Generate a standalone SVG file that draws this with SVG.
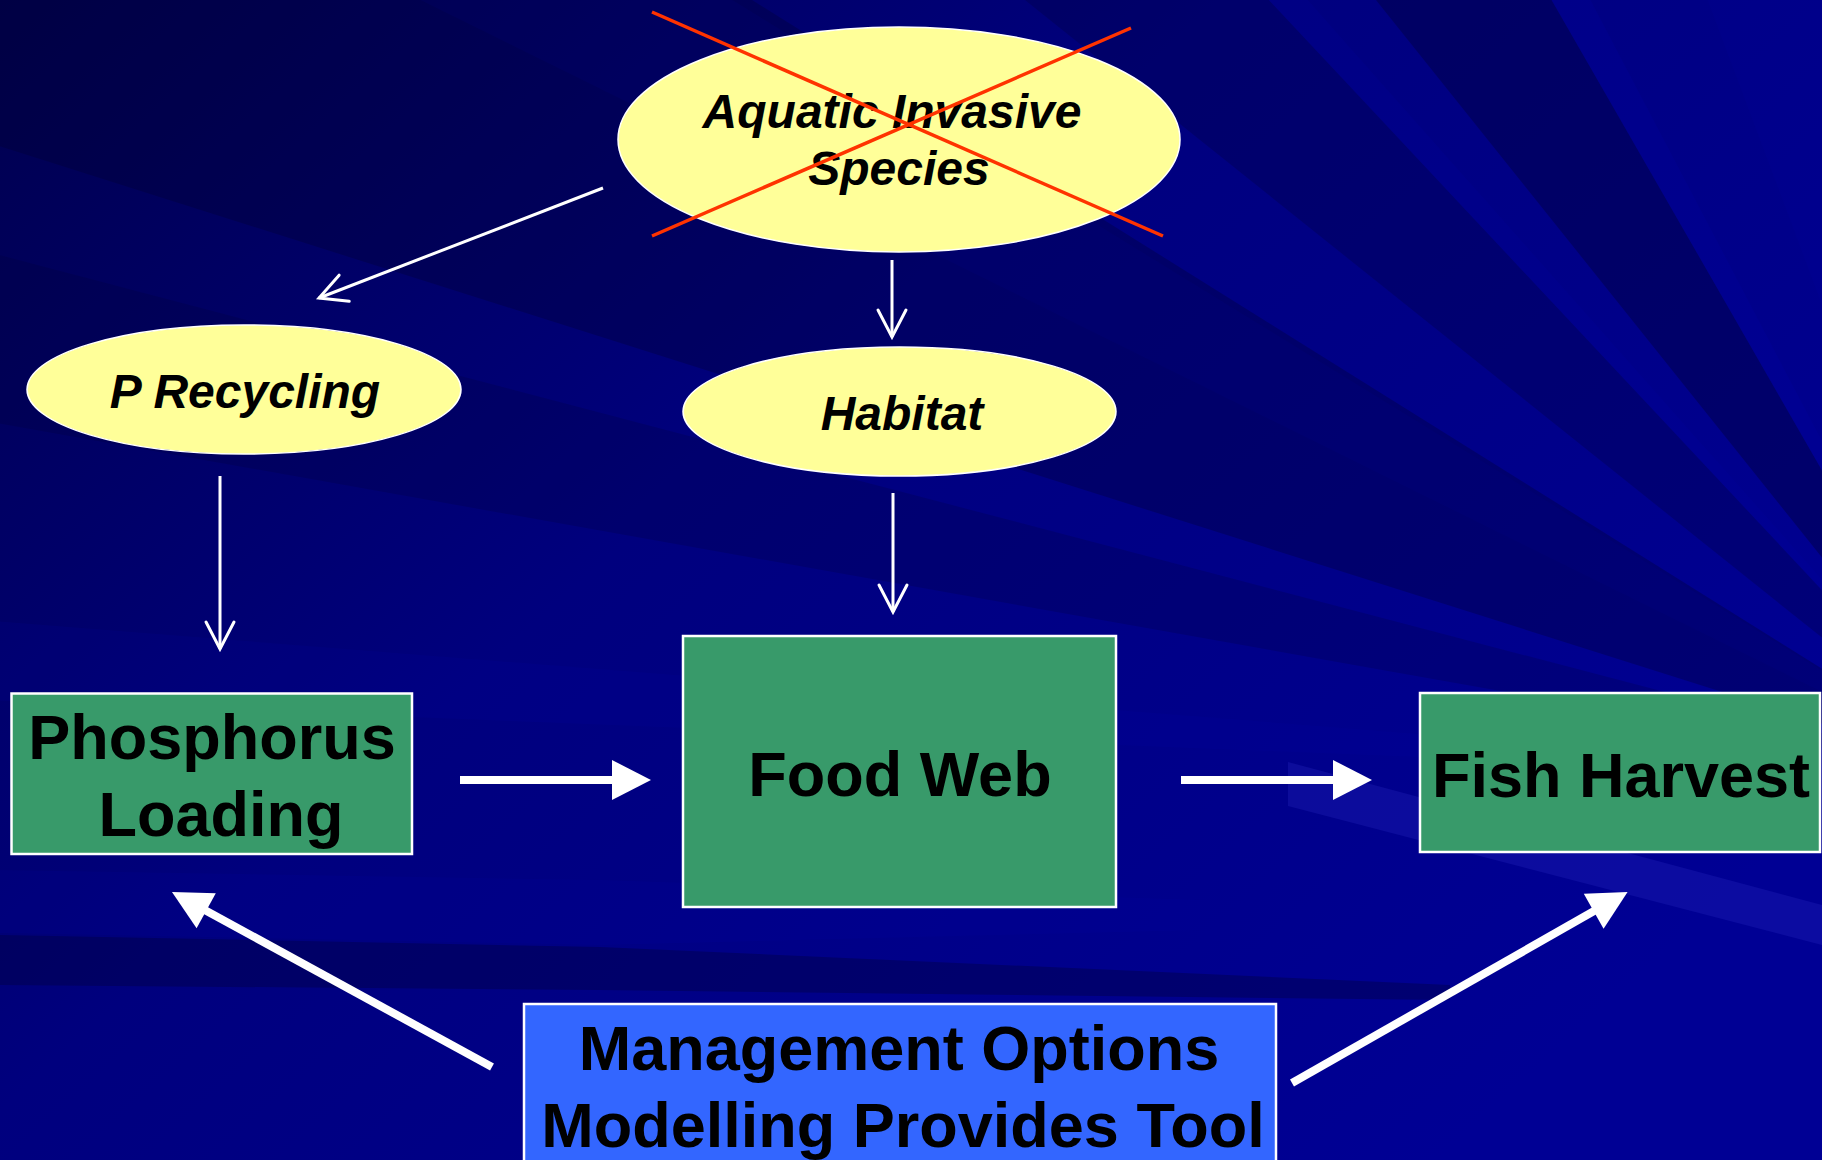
<svg xmlns="http://www.w3.org/2000/svg" width="1822" height="1160" viewBox="0 0 1822 1160">
  <defs>
    <linearGradient id="bgGrad" x1="0" y1="0" x2="1" y2="0.7">
      <stop offset="0" stop-color="#00004e"/>
      <stop offset="0.45" stop-color="#00007e"/>
      <stop offset="1" stop-color="#000094"/>
    </linearGradient>
    <!-- open V head for the thin connectors -->
    <marker id="openHead" markerUnits="userSpaceOnUse" viewBox="-32 -18 36 36" markerWidth="36" markerHeight="36" refX="0" refY="0" orient="auto">
      <path d="M-27,-14 L0,0 L-27,14" fill="none" stroke="#ffffff" stroke-width="3" stroke-linecap="round" stroke-linejoin="miter"/>
    </marker>
    <!-- solid triangle head for the thick connectors; tip sits 30 beyond the line end -->
    <marker id="solidHead" markerUnits="userSpaceOnUse" viewBox="-12 -22 46 44" markerWidth="46" markerHeight="44" refX="0" refY="0" orient="auto">
      <path d="M30,0 L-9,-20 L-9,20 Z" fill="#ffffff"/>
    </marker>
    <style>
      .ellipseNode { fill: #ffff99; stroke: #ffffff; stroke-width: 1.5; }
      .greenBox { fill: #389a6a; stroke: #ffffff; stroke-width: 2.5; }
      .blueBox { fill: #3366ff; stroke: #ffffff; stroke-width: 2.5; }
      .ovalLabel { font-family: "Liberation Sans", Arial, sans-serif; font-size: 48px; font-weight: bold; font-style: italic; fill: #000000; text-anchor: middle; }
      .boxLabel { font-family: "Liberation Sans", Arial, sans-serif; font-size: 63px; font-weight: bold; fill: #000000; text-anchor: middle; }
      .thin { stroke: #ffffff; stroke-width: 3; fill: none; marker-end: url(#openHead); }
      .thick { stroke: #ffffff; stroke-width: 8; fill: none; marker-end: url(#solidHead); }
      .cross { stroke: #ff3300; stroke-width: 3.5; }
    </style>
  </defs>

  <!-- background with fanned streaks -->
  <g id="background">
    <rect x="0" y="0" width="1822" height="1160" fill="url(#bgGrad)"/>
    <polygon points="2000,780 -20,140 -20,-20 720,-20" fill="#000030" opacity="0.3"/>
    <polygon points="2000,780 -20,420 -20,250" fill="#000030" opacity="0.2"/>
    <polygon points="2000,780 380,-20 700,-20" fill="#0000a0" opacity="0.1"/>
    <polygon points="2000,780 1000,-20 1250,-20" fill="#000040" opacity="0.3"/>
    <polygon points="2000,780 1250,-20 1290,-20" fill="#0000b0" opacity="0.12"/>
    <polygon points="2000,780 1360,-20 1540,-20" fill="#000040" opacity="0.45"/>
    <polygon points="2000,780 1540,-20 1580,-20" fill="#0000b0" opacity="0.15"/>
    <polygon points="2000,780 1700,-20 1822,-20 1822,120" fill="#0000b0" opacity="0.08"/>
    <polygon points="2000,780 -20,700 -20,620" fill="#0000b0" opacity="0.1"/>
    <polygon points="0,935 600,947 1450,985 1450,1000 600,990 0,985" fill="#000040" opacity="0.4"/>
    <polygon points="0,870 600,880 1200,900 1200,930 600,945 0,933" fill="#0000b0" opacity="0.1"/>
    <polygon points="1288,762 1822,905 1822,945 1288,806" fill="#2828c0" opacity="0.3"/>
  </g>

  <!-- connectors -->
  <g id="connectors">
    <line class="thin" x1="603" y1="188" x2="319" y2="298"/>
    <line class="thin" x1="220" y1="476" x2="220" y2="649"/>
    <line class="thin" x1="892" y1="260" x2="892" y2="337"/>
    <line class="thin" x1="893" y1="493" x2="893" y2="612"/>
    <line class="thick" x1="460" y1="780" x2="621" y2="780"/>
    <line class="thick" x1="1181" y1="780" x2="1342" y2="780"/>
    <line class="thick" x1="492" y1="1067" x2="198.3" y2="906.4"/>
    <line class="thick" x1="1292" y1="1083" x2="1601.5" y2="906.8"/>
  </g>

  <!-- nodes -->
  <g id="aquatic-invasive-species">
    <ellipse class="ellipseNode" cx="899" cy="139.5" rx="281" ry="112.5"/>
    <text class="ovalLabel" x="892" y="128">Aquatic Invasive</text>
    <text class="ovalLabel" x="899" y="185">Species</text>
    <line class="cross" x1="652" y1="12" x2="1163" y2="236"/>
    <line class="cross" x1="652" y1="236" x2="1131" y2="28"/>
  </g>

  <g id="p-recycling">
    <ellipse class="ellipseNode" cx="244" cy="389.5" rx="217" ry="64.5"/>
    <text class="ovalLabel" x="245" y="408">P Recycling</text>
  </g>

  <g id="habitat">
    <ellipse class="ellipseNode" cx="899.5" cy="411.5" rx="216.5" ry="64.5"/>
    <text class="ovalLabel" x="902" y="430">Habitat</text>
  </g>

  <g id="phosphorus-loading">
    <rect class="greenBox" x="11.5" y="693.5" width="400.5" height="160.5"/>
    <text class="boxLabel" x="212" y="759">Phosphorus</text>
    <text class="boxLabel" x="221" y="836">Loading</text>
  </g>

  <g id="food-web">
    <rect class="greenBox" x="683" y="636" width="433" height="271"/>
    <text class="boxLabel" x="900" y="796">Food Web</text>
  </g>

  <g id="fish-harvest">
    <rect class="greenBox" x="1420" y="693" width="400" height="159"/>
    <text class="boxLabel" x="1621" y="797">Fish Harvest</text>
  </g>

  <g id="management-options">
    <rect class="blueBox" x="524" y="1004" width="752" height="175"/>
    <text class="boxLabel" x="899" y="1070">Management Options</text>
    <text class="boxLabel" x="903" y="1147">Modelling Provides Tool</text>
  </g>
</svg>
